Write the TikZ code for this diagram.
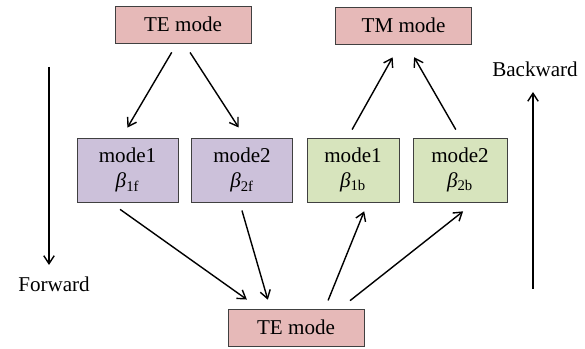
\documentclass[tikz,border=0pt]{standalone}
\usepackage{fontspec}
\setmainfont{Liberation Serif}
\usetikzlibrary{arrows.meta}
\definecolor{pinkfill}{HTML}{E6B9B8}
\definecolor{purplefill}{HTML}{CCC1DA}
\definecolor{greenfill}{HTML}{D7E4BD}
\begin{document}
\begin{tikzpicture}[
        every node/.style={font=\fontsize{15pt}{18pt}\selectfont},
        modebox/.style={rectangle, draw=black!75, line width=0.6pt, inner sep=0pt, minimum height=0.925cm},
        pinkbox/.style={modebox, fill=pinkfill, minimum width=3.4cm},
        fwdbox/.style={modebox, fill=purplefill, minimum width=2.525cm, minimum height=1.6cm, align=center},
        bwdbox/.style={modebox, fill=greenfill, minimum width=2.3cm, minimum height=1.6cm, align=center},
        link/.style={-{Straight Barb[length=2mm, width=2.6mm]}, line width=1pt}
    ]
        \useasboundingbox (0,0) rectangle (14.625,8.725);

        % Các khối mode
        \node [pinkbox] (TE1) at (4.575,8.1125) {TE mode};
        \node [pinkbox] (TM) at (10.0875,8.0875) {TM mode};
        \node [fwdbox] (M1f) at (3.1875,4.475) {mode1\\\textit{β}\textsubscript{1f}};
        \node [fwdbox] (M2f) at (6.05,4.475) {mode2\\\textit{β}\textsubscript{2f}};
        \node [bwdbox] (M1b) at (8.825,4.475) {mode1\\\textit{β}\textsubscript{1b}};
        \node [bwdbox, minimum width=2.35cm] (M2b) at (11.5,4.475) {mode2\\\textit{β}\textsubscript{2b}};
        \node [pinkbox] (TE2) at (7.4,0.5375) {TE mode};

        % Chiều truyền
        \coordinate (fwdA) at (1.225,7.05);
        \coordinate (fwdB) at (1.225,2.1);
        \node (fwd) at (1.35,1.61) {Forward};
        \coordinate (bwdA) at (13.325,1.5);
        \coordinate (bwdB) at (13.325,6.425);
        \node (bwd) at (13.375,7.0) {Backward};
        \draw[link] (fwdA) -- (fwdB);
        \draw[link] (bwdA) -- (bwdB);

        % Các mũi tên giữa các khối
        \draw[link, shorten <=0.26cm, shorten >=0.29cm] ([xshift=-0.15cm]TE1.south) -- ([xshift=-0.15cm]M1f.north);
        \draw[link, shorten <=0.27cm, shorten >=0.3cm] ([xshift=0.03cm]TE1.south) -- ([xshift=0.08cm]M2f.north);
        \draw[link, shorten <=0.23cm, shorten >=0.37cm] ([xshift=-0.135cm]M1b.north) -- ([xshift=-0.09cm]TM.south);
        \draw[link, shorten <=0.23cm, shorten >=0.37cm] ([xshift=0.01cm]M2b.north) -- ([xshift=0.08cm]TM.south);
        \draw[link, shorten <=0.3cm, shorten >=0.39cm] ([xshift=-0.43cm]M1f.south) -- ([xshift=-0.91cm]TE2.north);
        \draw[link, shorten <=0.21cm, shorten >=0.23cm] ([xshift=-0.06cm]M2f.south) -- ([xshift=-0.64cm]TE2.north);
        \draw[link, shorten <=0.22cm, shorten >=0.24cm] ([xshift=0.72cm]TE2.north) -- ([xshift=0.37cm]M1b.south);
        \draw[link, shorten <=0.32cm, shorten >=0.36cm] ([xshift=1.1cm]TE2.north) -- ([xshift=0.36cm]M2b.south);
    \end{tikzpicture}
\end{document}
